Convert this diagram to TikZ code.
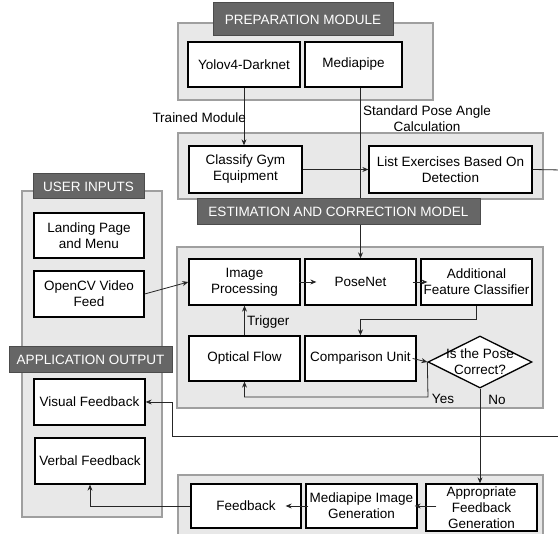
\documentclass[tikz,border=0pt]{standalone}
\usepackage{fontspec}
\setmainfont{Liberation Sans}
\usetikzlibrary{shapes.geometric,arrows.meta}
\pgfdeclarelayer{bg}
\pgfdeclarelayer{mid}
\pgfdeclarelayer{ttl}
\pgfsetlayers{bg,mid,ttl,main}
\newcommand\dfont{\fontsize{13.5}{16}\selectfont}
\tikzset{
 panel/.style={draw=gray!75, fill=gray!18, line width=1.2pt},
 ttlbox/.style={draw=black!70, fill=black!60, text=white, line width=1pt, font=\dfont, inner sep=0pt},
 box/.style={draw=black, fill=white, line width=1.3pt, align=center, font=\dfont, inner sep=0pt},
 conn/.style={draw=black!85, line width=0.8pt},
 arr/.style={conn, -{Stealth[length=6pt,width=5pt]}},
 lbl/.style={font=\dfont, align=center, inner sep=0pt},
}
\begin{document}
\begin{tikzpicture}[x=1pt,y=-1pt]
\useasboundingbox (0,0) rectangle (558,534);
% panels
\begin{pgfonlayer}{bg}
\fill[white] (0,0) rectangle (558,534);
\draw[panel] (178,23) rectangle (433,100);
\draw[panel] (178,133) rectangle (543,199);
\draw[panel] (177,247) rectangle (543,408);
\draw[panel] (178,475) rectangle (543,545);
\draw[panel] (22,191) rectangle (162,517);
\end{pgfonlayer}
% titles
\begin{pgfonlayer}{ttl}
\node[ttlbox, minimum width=180pt, minimum height=33pt] (tprep) at (303,19.5) {PREPARATION MODULE};
\node[ttlbox, minimum width=283pt, minimum height=26pt] (test) at (338.5,212) {ESTIMATION AND CORRECTION MODEL};
\node[ttlbox, minimum width=111pt, minimum height=25pt] (tuser) at (88.5,186.5) {USER INPUTS};
\node[ttlbox, minimum width=163pt, minimum height=26pt] (tapp) at (90.5,360) {APPLICATION OUTPUT};
\end{pgfonlayer}
% boxes
\node[box, minimum width=112pt, minimum height=45pt] (yolo) at (244,64.5) {Yolov4-Darknet};
\node[box, minimum width=97pt, minimum height=45pt] (mp) at (353.5,64.5) {Mediapipe};
\node[box, minimum width=113pt, minimum height=47pt] (cge) at (245.5,169.5) {Classify Gym\\Equipment};
\node[box, minimum width=163pt, minimum height=47pt] (lex) at (450.5,169.5) {List Exercises Based On\\Detection};
\node[box, minimum width=111pt, minimum height=46pt] (ip) at (244.5,282) {Image\\Processing};
\node[box, minimum width=111pt, minimum height=46pt] (pn) at (360.5,282) {PoseNet};
\node[box, minimum width=111pt, minimum height=46pt] (afc) at (476.5,282) {Additional\\Feature Classifier};
\node[box, minimum width=111pt, minimum height=45pt] (of) at (244.5,358.5) {Optical Flow};
\node[box, minimum width=111pt, minimum height=45pt] (cu) at (360.5,358.5) {Comparison Unit};
\node[diamond, aspect=2, draw=black, fill=white, line width=1.3pt, inner sep=0pt, minimum width=104pt, minimum height=52pt] (dia) at (480,362) {};
\node[lbl] (diat) at (dia.center) {Is the Pose\\Correct?};
\node[box, minimum width=110pt, minimum height=45pt] (land) at (89,235.5) {Landing Page\\and Menu};
\node[box, minimum width=110pt, minimum height=46pt] (ocv) at (89,294) {OpenCV Video\\Feed};
\node[box, minimum width=111pt, minimum height=46pt] (vis) at (89.5,402) {Visual Feedback};
\node[box, minimum width=110pt, minimum height=46pt] (verb) at (90,461) {Verbal Feedback};
\node[box, minimum width=110pt, minimum height=44pt] (fb) at (246,506) {Feedback};
\node[box, minimum width=111pt, minimum height=44pt] (mig) at (361.5,506) {Mediapipe Image\\Generation};
\node[box, minimum width=111pt, minimum height=47pt] (afg) at (481.5,507.5) {Appropriate\\Feedback\\Generation};
% coordinates
\coordinate (edgeA) at (562,170);
\coordinate (edgeB) at (562,436);
\coordinate (turnB) at (172,402);
\coordinate (c1) at (476.5,319);
\coordinate (cy) at (428,397);
% connectors
\begin{pgfonlayer}{mid}
\draw[arr] (mp.south -| pn.north) -- (pn.north);
\end{pgfonlayer}
\draw[arr] (yolo.south) -- (yolo.south |- cge.north);
\node[lbl, anchor=east] (tm) at (246,118) {Trained Module};
\node[lbl] (spa) at (427,119) {Standard Pose Angle\\Calculation};
\draw[arr] (cge.east) -- (lex.west);
\draw[conn] (lex.east) -- (edgeA);
\draw[arr] (ocv.east) -- (ip.west);
\draw[arr] ([xshift=-2pt]ip.east) -- ([xshift=12pt]pn.west);
\draw[arr] ([xshift=-4pt]pn.east) -- ([xshift=7pt]afc.west);
\draw[arr] (afc.south) -- (c1) -| (cu.north);
\draw[arr] (of.north) -- (ip.south);
\node[lbl, anchor=west] (trig) at (247,322) {Trigger};
\draw[arr] ([xshift=-4pt]cu.east) -- (dia.west);
\draw[arr] (dia.west) -- (cy) -| (of.south);
\node[lbl] (yes) at (443,399) {Yes};
\draw[arr] (dia.south) -- (dia.south |- afg.north);
\node[lbl] (no) at (497,400) {No};
\draw[arr] (edgeB) -| (turnB) -- (vis.east);
\draw[arr] ([xshift=11pt]afg.west |- mig.east) -- ([xshift=-3pt]mig.east);
\draw[arr] ([xshift=3pt]mig.west) -- ([xshift=-16pt]fb.east);
\draw[arr] (fb.west) -| (verb.south);
\end{tikzpicture}
\end{document}
